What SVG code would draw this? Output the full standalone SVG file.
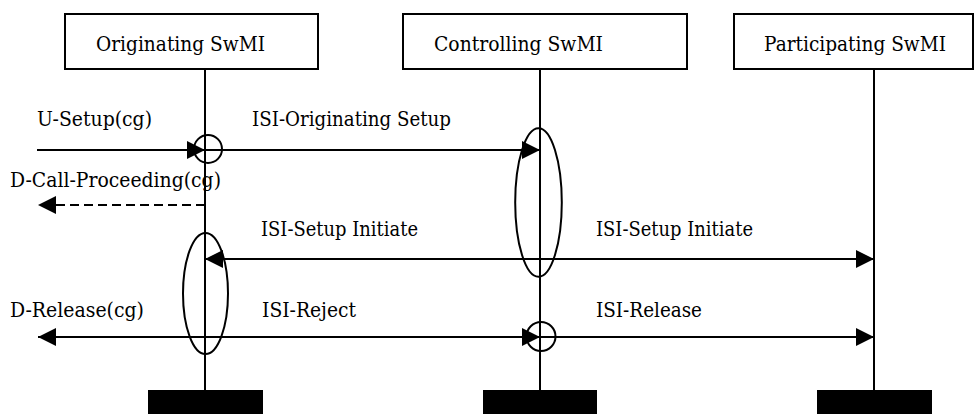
<svg xmlns="http://www.w3.org/2000/svg" width="974" height="414" viewBox="0 0 974 414">
<style>
.box{fill:#fff;stroke:#000;stroke-width:2}
.life{stroke:#000;stroke-width:2}
.bar{fill:#000}
text{font-family:'DejaVu Serif',serif;font-size:21px;fill:#000}
.msg{stroke:#000;stroke-width:2;fill:none}
.dash{stroke-dasharray:9 5}
.mark{fill:none;stroke:#000;stroke-width:2}
</style>
<defs>
<marker id="ah" viewBox="0 0 18 18" refX="18" refY="9" markerWidth="18" markerHeight="18" markerUnits="userSpaceOnUse" orient="auto">
<path d="M0,0 L18,9 L0,18 Z" fill="#000"/>
</marker>
</defs>
<g id="orig">
<rect class="box" x="65" y="14" width="253" height="55"/>
<text x="96" y="51" textLength="169" lengthAdjust="spacingAndGlyphs">Originating SwMI</text>
<line class="life" x1="205" y1="69" x2="205" y2="390"/>
<rect class="bar" x="148" y="390" width="115" height="24"/>
</g>
<g id="ctrl">
<rect class="box" x="403" y="14" width="284" height="55"/>
<text x="434" y="51" textLength="169" lengthAdjust="spacingAndGlyphs">Controlling SwMI</text>
<line class="life" x1="540" y1="69" x2="540" y2="390"/>
<rect class="bar" x="483" y="390" width="114" height="24"/>
</g>
<g id="part">
<rect class="box" x="734" y="14" width="239" height="55"/>
<text x="764" y="51" textLength="182" lengthAdjust="spacingAndGlyphs">Participating SwMI</text>
<line class="life" x1="874" y1="69" x2="874" y2="390"/>
<rect class="bar" x="817" y="390" width="115" height="24"/>
</g>
<g id="connectors">
<line class="msg" x1="37" y1="150" x2="205" y2="150" marker-end="url(#ah)"/>
<line class="msg" x1="205" y1="150" x2="540" y2="150" marker-end="url(#ah)"/>
<line class="msg dash" x1="205" y1="205" x2="38" y2="205" marker-end="url(#ah)"/>
<line class="msg" x1="540" y1="259" x2="205" y2="259" marker-end="url(#ah)"/>
<line class="msg" x1="540" y1="259" x2="874" y2="259" marker-end="url(#ah)"/>
<line class="msg" x1="205" y1="337" x2="38" y2="337" marker-end="url(#ah)"/>
<line class="msg" x1="205" y1="337" x2="540" y2="337" marker-end="url(#ah)"/>
<line class="msg" x1="540" y1="337" x2="874" y2="337" marker-end="url(#ah)"/>
<circle class="mark" cx="208" cy="149" r="14"/>
<ellipse class="mark" cx="538.5" cy="202.5" rx="23.3" ry="74.3"/>
<ellipse class="mark" cx="205.5" cy="293.5" rx="22.5" ry="60.5"/>
<circle class="mark" cx="541" cy="336.5" r="14.5"/>
</g>
<g id="labels">
<text x="37" y="126" textLength="115" lengthAdjust="spacingAndGlyphs">U-Setup(cg)</text>
<text x="252" y="126" textLength="199" lengthAdjust="spacingAndGlyphs">ISI-Originating Setup</text>
<text x="10" y="187" textLength="211" lengthAdjust="spacingAndGlyphs">D-Call-Proceeding(cg)</text>
<text x="261" y="236" textLength="157" lengthAdjust="spacingAndGlyphs">ISI-Setup Initiate</text>
<text x="596" y="236" textLength="157" lengthAdjust="spacingAndGlyphs">ISI-Setup Initiate</text>
<text x="10" y="317" textLength="134" lengthAdjust="spacingAndGlyphs">D-Release(cg)</text>
<text x="262" y="317" textLength="94" lengthAdjust="spacingAndGlyphs">ISI-Reject</text>
<text x="596" y="317" textLength="106" lengthAdjust="spacingAndGlyphs">ISI-Release</text>
</g>
</svg>
